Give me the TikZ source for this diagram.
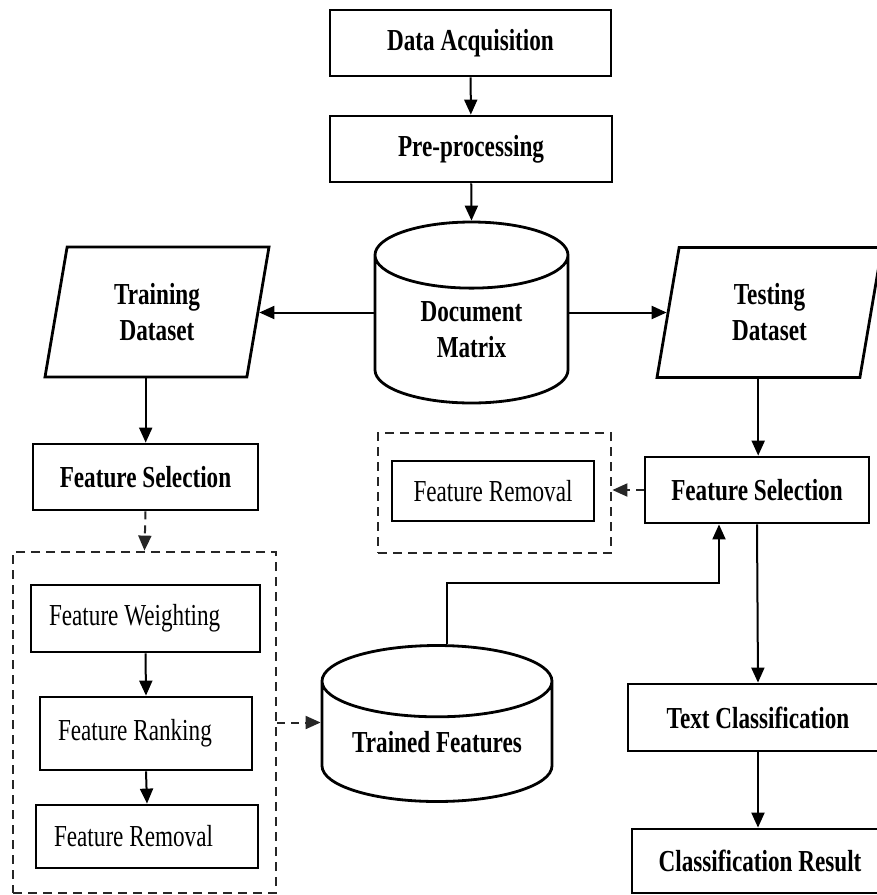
\documentclass[tikz,border=0pt]{standalone}
\usepackage{fontspec}
\setmainfont{Liberation Serif}[FakeStretch=0.76]
\usetikzlibrary{shapes.geometric,arrows.meta}

\begin{document}
\begin{tikzpicture}[x=1pt,y=-1pt]
    \newcommand{\boxlw}{2.8pt} % border of the boxes
    \newcommand{\arrlw}{2pt} % connectors
    \newcommand{\txt}{\fontsize{30.5}{36}\selectfont}

    % set the styles
    \tikzset{
        box/.style={draw, rectangle, line width=\boxlw, inner sep=0pt,
            font=\txt\bfseries, align=center},
        subbox/.style={box, font=\txt, align=flush left, inner xsep=18pt},
        db/.style={draw, cylinder, shape border rotate=90, line width=\boxlw,
            inner sep=0pt, anchor=shape center, font=\txt\bfseries, align=center},
        dataset/.style={draw, trapezium, trapezium left angle=79.5,
            trapezium right angle=100.5, trapezium stretches body,
            line width=\boxlw, inner xsep=0pt, inner ysep=31pt,
            font=\txt\bfseries, align=center},
        group/.style={draw=black!85, dash pattern=on 9pt off 6pt,
            line width=\boxlw, inner sep=0pt},
        arr/.style={-{Triangle[length=15pt,width=13pt]}, line width=\arrlw},
        darr/.style={arr, draw=black!85, dash pattern=on 8pt off 6pt}
    }

    \path[use as bounding box, fill=white] (0,0) rectangle (877,895);
    \clip (0,0) rectangle (877,895);

    % main line
    \node[box, minimum width=281, minimum height=66] (acq) at (470.5,43) {Data Acquisition};
    \node[box, minimum width=282, minimum height=66] (pre) at (471,149) {Pre-processing};
    \node[db, minimum width=193, minimum height=181, aspect=0.65] (dm) at (471.5,312.5) {Document\\Matrix};
    \node[dataset, minimum width=224, minimum height=130] (train) at (157,312) {Training\\Dataset};
    \node[dataset, minimum width=225, minimum height=130] (test) at (769.5,312.5) {Testing\\Dataset};

    % training side
    \node[box, minimum width=225, minimum height=66] (lfs) at (145.5,477) {Feature Selection};
    \node[group, minimum width=263, minimum height=341] (train group) at (144.5,722.5) {};
    \node[subbox, text width=193, minimum height=67] (weight) at (145.5,618.5) {Feature Weighting};
    \node[subbox, text width=176, minimum height=73] (rank) at (146,733.5) {Feature Ranking};
    \node[subbox, text width=186, minimum height=63] (lrem) at (147,836.5) {Feature Removal};
    \node[db, minimum width=230, minimum height=156, aspect=0.42] (tf) at (437,723.5) {Trained Features};

    % testing side
    \node[box, minimum width=224, minimum height=66] (rfs) at (757,490) {Feature Selection};
    \node[group, minimum width=233, minimum height=120] (test group) at (494.5,493) {};
    \node[box, font=\txt, minimum width=202, minimum height=60] (rrem) at (493,491) {Feature Removal};
    \node[box, minimum width=260, minimum height=67] (tc) at (758,717.5) {Text Classification};
    \node[box, minimum width=256, minimum height=64] (cr) at (760,861) {Classification Result};
    \coordinate (tfbend) at (719,583);

    % arrows
    \draw[arr] (acq) -- (pre);
    \draw[arr] (pre) -- (dm.north);
    \draw[arr] (dm.shape center -| dm.west) -- (dm.shape center -| train.east);
    \draw[arr] (dm.shape center -| dm.east) -- (dm.shape center -| test.west);
    \draw[arr] (train.bottom side) -- (train.bottom side |- lfs.north);
    \draw[darr] (lfs.south) -- (train group.north);
    \draw[arr] (weight.south) -- (rank.north);
    \draw[arr] (rank.south) -- (lrem.north);
    \draw[darr] (train group.east) -- (train group.east -| tf.west);
    \draw[arr] (test.bottom side) -- (test.bottom side |- rfs.north);
    \draw[darr] (rfs.west) -- (rfs.west -| test group.east);
    \draw[arr] ([xshift=10pt]tf.north) |- (tfbend) -- (tfbend |- rfs.south);
    \draw[arr] (rfs.south) -- (tc.north);
    \draw[arr] (tc.south) -- (tc.south |- cr.north);

\end{tikzpicture}
\end{document}
